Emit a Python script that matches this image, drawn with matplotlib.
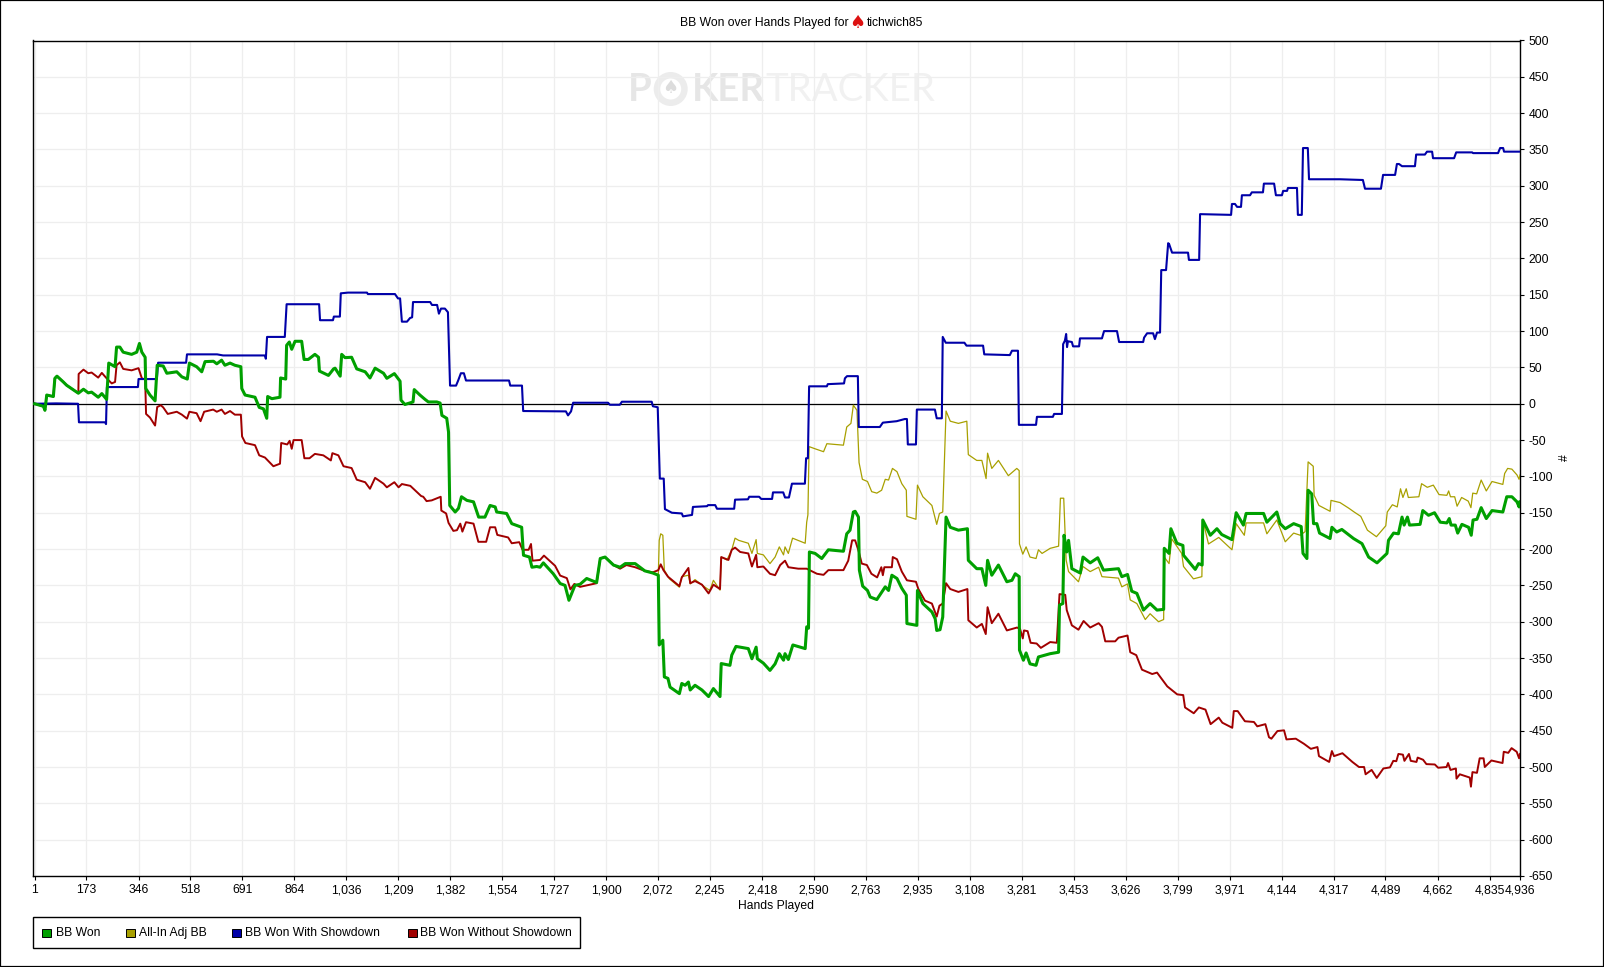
import numpy as np
import matplotlib
matplotlib.use("Agg")
import matplotlib.pyplot as plt
from matplotlib.patches import Rectangle, Circle

plt.rcParams['font.family'] = ['Liberation Sans', 'DejaVu Sans']
plt.rcParams['axes.unicode_minus'] = False

# (hand, bb)
bb_won = [
    (1, 0), (30, -3.5), (35, -9), (41, 12), (63, 10), (68, 35), (75, 38), (96, 30), (107, 25.5), (146, 14.5),
    (163, 20), (179, 15), (190, 16), (212, 9), (224, 14), (240, 6), (247, 56), (268, 51), (273, 78), (284, 78),
    (295, 71), (323, 68), (340, 71), (349, 83), (357, 71), (368, 64), (370, 21), (384, 12), (401, 4), (408, 53),
    (428, 52), (440, 42), (473, 44), (490, 37), (508, 34), (515, 56), (539, 51), (556, 44), (567, 58), (595, 58.5),
    (606, 55), (622, 60), (633, 53), (650, 56), (666, 53), (686, 51), (689, 21), (700, 12), (733, 9), (747, -5),
    (761, -7), (772, -20), (775, 10), (789, 7), (816, 9), (818, 35.5), (835, 34), (838, 80.5), (847, 85), (855, 75),
    (866, 86), (888, 86), (896, 61), (910, 61), (932, 68), (944, 64), (947, 45), (977, 39), (994, 48), (999, 49),
    (1016, 38), (1021, 68), (1032, 63.5), (1054, 64), (1071, 48), (1099, 44), (1115, 35.5), (1132, 49), (1160, 42),
    (1171, 35), (1196, 41.5), (1215, 31), (1218, 5), (1231, -1), (1258, 2.5), (1262, 19.5), (1281, 12), (1298, 6),
    (1309, 2.5), (1337, 2.5), (1348, 1), (1354, -16), (1370, -20), (1376, -39), (1380, -140), (1398, -149),
    (1409, -144), (1419, -128), (1437, -133), (1459, -135), (1476, -156), (1497, -156), (1514, -140), (1531, -142),
    (1536, -149), (1569, -151), (1586, -165), (1619, -170), (1625, -208.5), (1645, -211), (1653, -225), (1669, -224),
    (1680, -225), (1691, -219), (1724, -234), (1747, -247.5), (1763, -250), (1776, -270.5), (1796, -250),
    (1813, -248.5), (1835, -240.5), (1868, -246), (1880, -213), (1896, -211), (1924, -222), (1946, -225), (1963, -220),
    (1996, -220), (2028, -230), (2055, -233), (2073, -236), (2076, -332), (2088, -325.5), (2093, -376), (2105, -378),
    (2112, -390), (2143, -399), (2151, -385), (2162, -387.5), (2173, -383), (2179, -394), (2195, -387.5), (2218, -394),
    (2240, -403), (2256, -392), (2278, -403), (2282, -357.6), (2311, -360), (2317, -346), (2331, -334), (2372, -337),
    (2384, -351), (2398, -335), (2402, -351), (2422, -357), (2444, -367), (2461, -358), (2475, -344), (2489, -353),
    (2494, -344), (2505, -352), (2520, -332), (2561, -337), (2566, -307), (2572, -309), (2575, -204), (2594, -206),
    (2616, -213), (2638, -201), (2688, -203), (2699, -179), (2710, -174), (2721, -149), (2727, -148), (2738, -156),
    (2741, -229), (2752, -251), (2768, -257), (2777, -266), (2799, -269.5), (2827, -252), (2838, -257), (2849, -236),
    (2866, -240.5), (2882, -254), (2897, -263.5), (2899, -302.5), (2932, -305), (2934, -257), (2952, -275),
    (2982, -286.5), (2993, -296), (2998, -312), (3009, -311), (3018, -293.5), (3029, -156), (3043, -170), (3070, -174),
    (3100, -172), (3103, -215.5), (3131, -227), (3148, -227), (3161, -250), (3167, -215.5), (3181, -236), (3203, -222),
    (3231, -245), (3248, -243), (3259, -234), (3272, -238), (3273, -339), (3286, -353), (3295, -343), (3308, -358),
    (3328, -360), (3336, -348.5), (3375, -344), (3403, -342), (3406, -277), (3417, -275), (3421, -181), (3430, -204),
    (3436, -188), (3447, -227), (3475, -233), (3484, -211), (3508, -219), (3533, -212), (3552, -229), (3602, -227),
    (3613, -238), (3632, -235), (3646, -258), (3663, -261), (3685, -284), (3707, -275), (3730, -284), (3752, -283),
    (3754, -199), (3770, -206), (3776, -172), (3796, -192), (3816, -195), (3818, -208.5), (3857, -228), (3868, -220),
    (3880, -222), (3882, -160), (3907, -181), (3929, -172), (3945, -180), (3979, -187), (3993, -150), (4017, -167),
    (4026, -151), (4084, -151), (4095, -163), (4128, -149), (4139, -165), (4156, -172), (4184, -165), (4209, -169),
    (4215, -206), (4228, -213), (4232, -119), (4244, -124), (4250, -165), (4261, -165), (4270, -178), (4305, -185.5),
    (4311, -170), (4327, -176.5), (4344, -173), (4383, -185.5), (4411, -192.5), (4433, -211), (4461, -219),
    (4494, -206), (4499, -188), (4516, -178), (4532, -179), (4544, -156), (4551, -167), (4562, -156), (4569, -167),
    (4604, -166), (4613, -147), (4632, -153.5), (4652, -150), (4671, -163), (4693, -164), (4701, -158), (4707, -167),
    (4721, -167), (4729, -178), (4743, -166), (4765, -170), (4774, -181), (4780, -160), (4793, -159), (4807, -143),
    (4824, -158), (4843, -147), (4879, -149), (4892, -128), (4909, -128), (4926, -135), (4933, -142), (4936, -135),
]

# all-in line sits on top of BB Won until the first all-in, around hand 2073
all_in_after = [
    (2076, -188), (2081, -179), (2088, -181), (2093, -229), (2110, -241), (2143, -252.5), (2151, -238), (2173, -236),
    (2179, -248), (2195, -242), (2223, -251), (2244, -257), (2256, -243), (2278, -256.5), (2282, -211), (2301, -215),
    (2317, -201), (2328, -185), (2340, -188), (2372, -192), (2384, -206), (2398, -187), (2402, -206), (2422, -208),
    (2444, -220), (2461, -211), (2475, -197), (2489, -208), (2494, -197), (2505, -206), (2519, -185), (2561, -192),
    (2566, -163), (2570, -153), (2574, -59), (2594, -62), (2622, -66), (2633, -55), (2688, -57), (2699, -32),
    (2713, -27), (2721, -2), (2733, -9), (2740, -81), (2751, -104), (2768, -107), (2782, -121), (2799, -123),
    (2815, -119), (2827, -104), (2838, -105), (2851, -89), (2866, -93.5), (2882, -110), (2897, -119), (2899, -155),
    (2929, -159), (2934, -112), (2952, -128), (2982, -140), (2998, -166), (3007, -151), (3018, -149), (3029, -10),
    (3043, -24), (3070, -27), (3098, -24), (3103, -70), (3131, -78), (3148, -78), (3162, -103), (3167, -68),
    (3181, -89), (3203, -78), (3236, -99), (3264, -89), (3272, -92), (3273, -193), (3284, -207), (3295, -197),
    (3308, -211), (3328, -213), (3336, -201), (3348, -206), (3375, -199), (3403, -196), (3409, -130), (3420, -130),
    (3428, -215), (3436, -231), (3469, -245), (3484, -224), (3508, -231), (3536, -225), (3547, -238), (3602, -240),
    (3613, -252), (3632, -248), (3641, -270), (3663, -275), (3691, -297), (3707, -289), (3735, -300), (3752, -297),
    (3754, -211), (3770, -220), (3779, -186), (3812, -206), (3818, -224), (3851, -241), (3879, -238), (3882, -160),
    (3901, -193), (3935, -184), (3979, -201), (3993, -165), (4020, -181), (4026, -164), (4084, -164), (4095, -179),
    (4128, -160), (4156, -190), (4184, -178), (4206, -181), (4222, -176), (4232, -80), (4249, -86), (4252, -126),
    (4268, -140), (4305, -148), (4308, -133), (4338, -136), (4368, -144), (4385, -149), (4407, -155), (4429, -174),
    (4459, -183), (4490, -168), (4495, -149), (4512, -139), (4528, -142), (4539, -117), (4547, -129), (4558, -117),
    (4565, -129), (4600, -128), (4609, -110), (4628, -115), (4648, -112), (4667, -125), (4693, -126), (4699, -120),
    (4705, -128), (4719, -128), (4727, -141), (4742, -129), (4764, -134), (4773, -143), (4779, -123), (4792, -124),
    (4807, -105), (4824, -120), (4843, -107), (4879, -111), (4885, -96), (4895, -89), (4909, -90), (4926, -98),
    (4933, -104), (4936, -98),
]
all_in_adj = [p for p in bb_won if p[0] <= 2073] + all_in_after

with_showdown = [
    (1, 0), (72, 0.5), (145, 0), (148, -25.5), (235, -25.5), (238, -28), (241, 23), (344, 23), (346, 34), (407, 34),
    (411, 56.5), (504, 56.5), (507, 68), (607, 68), (627, 66.5), (766, 66.5), (769, 62), (773, 92), (832, 92),
    (838, 137), (946, 137), (949, 115), (992, 115), (995, 120), (1015, 120), (1018, 152), (1042, 153), (1105, 153),
    (1108, 151), (1198, 151), (1208, 145), (1215, 145), (1221, 113), (1238, 113), (1248, 118), (1255, 119), (1258, 140),
    (1315, 140), (1321, 136), (1338, 136), (1344, 124), (1351, 131), (1364, 131), (1374, 126), (1381, 25), (1401, 25),
    (1408, 32), (1417, 42), (1427, 42), (1434, 32), (1577, 32), (1581, 25), (1620, 25), (1624, -10), (1766, -10.5),
    (1773, -16), (1783, -10.5), (1790, 1.4), (1906, 1.4), (1912, -1.4), (1945, -1.4), (1952, 2.8), (2051, 2.8),
    (2055, -3.4), (2071, -4.8), (2078, -103), (2091, -103), (2095, -145), (2118, -150), (2151, -151), (2155, -155),
    (2185, -153), (2188, -142), (2235, -141), (2238, -139.5), (2262, -139.5), (2268, -144.5), (2325, -144.5),
    (2328, -132), (2371, -131.5), (2375, -128), (2408, -128), (2415, -131), (2451, -131), (2454, -122), (2488, -122),
    (2494, -129), (2507, -129), (2517, -110), (2560, -110), (2564, -75), (2570, -75), (2574, 24), (2633, 24), (2636, 27),
    (2690, 28), (2693, 35), (2700, 38), (2736, 38), (2739, -32), (2809, -32), (2819, -26), (2865, -24), (2892, -21),
    (2899, -21), (2902, -56), (2929, -56), (2932, -8), (2992, -8), (2998, -20), (3015, -20), (3018, 92), (3028, 84),
    (3090, 84), (3097, 80), (3152, 80), (3156, 68), (3241, 67), (3248, 73), (3268, 73), (3271, -29), (3328, -29),
    (3331, -18), (3384, -18), (3388, -14), (3414, -14), (3418, 82), (3424, 87), (3428, 96), (3431, 78), (3434, 86),
    (3447, 85), (3451, 79), (3471, 79), (3474, 90), (3547, 90), (3554, 100), (3597, 100), (3604, 85), (3684, 85),
    (3687, 91), (3697, 97), (3717, 97), (3723, 89), (3730, 98), (3740, 98), (3744, 184), (3760, 184), (3767, 221),
    (3770, 220), (3780, 208), (3833, 208), (3836, 198), (3870, 198), (3873, 261), (3976, 260), (3979, 275), (3989, 275),
    (3996, 271), (4009, 271), (4012, 287), (4039, 287), (4045, 291), (4082, 291), (4085, 303), (4119, 303), (4125, 287),
    (4145, 287), (4149, 293), (4162, 293), (4165, 297), (4195, 297), (4198, 260), (4211, 260), (4215, 352), (4231, 352),
    (4235, 309), (4338, 309), (4414, 308), (4421, 296), (4474, 296), (4481, 315), (4521, 315), (4527, 330), (4534, 330),
    (4544, 327), (4587, 327), (4591, 343), (4620, 343), (4627, 347), (4644, 347), (4647, 338), (4717, 338), (4724, 346),
    (4777, 346), (4780, 345), (4863, 345), (4870, 352), (4880, 352), (4883, 347), (4936, 347),
]

without_showdown = [
    (1, 0), (30, -3.5), (35, -9), (41, 12), (63, 10), (68, 35), (75, 38), (96, 30), (107, 25.5), (146, 14.5), (147, 41),
    (163, 47), (179, 42), (190, 43), (212, 36), (224, 42.5), (240, 35), (257, 28), (268, 30), (273, 53), (284, 57),
    (295, 48), (323, 46), (346, 49), (357, 35), (368, 33.5), (371, -14), (384, -19), (401, -30), (408, -4.5), (420, -2),
    (428, -5), (443, -14), (473, -11), (490, -15), (507, -20.5), (515, -11), (539, -13), (552, -24), (564, -11),
    (594, -8), (606, -11), (622, -8), (633, -14), (650, -10), (666, -15), (686, -15), (690, -45), (701, -54), (733, -57),
    (747, -71), (766, -74), (794, -86), (816, -82.5), (820, -54), (840, -56), (848, -51), (855, -62), (861, -50),
    (888, -50), (897, -75), (914, -75), (932, -69), (960, -71), (985, -78), (990, -68), (1010, -71), (1027, -86),
    (1054, -88.5), (1071, -104.5), (1099, -108), (1115, -117), (1132, -102), (1160, -110), (1171, -115), (1196, -108),
    (1210, -115), (1221, -110.5), (1249, -113), (1285, -127), (1292, -128), (1303, -134), (1320, -133), (1350, -128),
    (1352, -147), (1368, -151), (1376, -164), (1392, -175), (1404, -174), (1415, -165), (1422, -176), (1434, -163),
    (1459, -165), (1475, -190), (1501, -190), (1514, -170), (1531, -170), (1538, -180.5), (1574, -184), (1586, -192),
    (1611, -190.5), (1622, -201), (1642, -201), (1650, -193), (1655, -216), (1680, -215), (1693, -209), (1730, -223),
    (1747, -236.5), (1769, -240), (1781, -255.5), (1794, -248), (1813, -252), (1868, -247), (1880, -213), (1896, -211),
    (1924, -222), (1946, -227), (1967, -222), (1996, -225), (2028, -230), (2055, -232), (2073, -229), (2081, -221),
    (2090, -229), (2105, -238), (2143, -251), (2151, -239), (2173, -226), (2179, -247), (2195, -244), (2218, -249),
    (2240, -261), (2256, -249), (2278, -255), (2282, -211), (2306, -215), (2317, -201), (2328, -198), (2345, -204),
    (2372, -206), (2384, -224), (2398, -208), (2402, -225), (2422, -224), (2444, -234), (2461, -236), (2478, -222),
    (2494, -216), (2505, -225), (2538, -227), (2566, -227), (2600, -234), (2622, -235.5), (2638, -229), (2688, -229),
    (2704, -216), (2717, -188), (2727, -188), (2738, -202), (2749, -220), (2766, -222), (2781, -234), (2800, -239),
    (2814, -225), (2819, -236), (2824, -225), (2849, -225), (2852, -211), (2866, -214), (2882, -231), (2899, -243),
    (2929, -245), (2937, -255), (2959, -271), (2982, -275), (2998, -293), (3007, -278), (3018, -275), (3029, -247),
    (3043, -255), (3070, -259), (3100, -255), (3103, -298), (3131, -308), (3148, -303), (3161, -317), (3167, -280),
    (3181, -302), (3203, -289), (3231, -312), (3248, -310), (3265, -308), (3275, -310), (3284, -323), (3288, -312),
    (3300, -313), (3310, -329), (3330, -330), (3344, -336), (3375, -328), (3397, -329), (3406, -262), (3425, -263),
    (3430, -284), (3447, -305), (3469, -311), (3486, -299), (3508, -308), (3536, -302), (3547, -307), (3558, -327),
    (3591, -327), (3602, -322), (3632, -319), (3641, -342), (3661, -346), (3680, -366), (3714, -372), (3730, -370),
    (3764, -389), (3797, -400), (3817, -401), (3823, -418), (3852, -426), (3869, -418), (3891, -421), (3908, -441),
    (3935, -432), (3947, -439), (3980, -446), (3985, -423), (3998, -423), (4022, -437), (4052, -438), (4063, -444),
    (4090, -441), (4102, -459), (4110, -461), (4130, -450.5), (4152, -449.5), (4160, -462), (4191, -461), (4218, -468),
    (4241, -475), (4263, -472.5), (4268, -485), (4302, -493), (4311, -478), (4318, -485), (4346, -481), (4379, -493),
    (4401, -500), (4418, -500), (4423, -510), (4443, -504), (4460, -515), (4482, -502), (4504, -500.5), (4515, -491.5),
    (4525, -492), (4532, -482), (4547, -483), (4552, -491.5), (4567, -482), (4573, -491.5), (4592, -493), (4596, -487),
    (4614, -490), (4625, -496), (4653, -496.5), (4664, -501), (4692, -500), (4697, -494.5), (4705, -504), (4723, -502),
    (4725, -516), (4736, -510), (4769, -514.5), (4773, -527), (4778, -507), (4793, -508), (4802, -488), (4815, -488),
    (4819, -500), (4841, -491), (4878, -494.5), (4882, -479), (4897, -480.5), (4908, -474), (4925, -479), (4933, -488),
    (4936, -482),
]

x_ticks = [1, 173, 346, 518, 691, 864, 1036, 1209, 1382, 1554, 1727, 1900, 2072, 2245, 2418, 2590, 2763, 2935,
           3108, 3281, 3453, 3626, 3799, 3971, 4144, 4317, 4489, 4662, 4835, 4936]
y_ticks = list(range(-650, 501, 50))

names = ['BB Won', 'All-In Adj BB', 'BB Won With Showdown', 'BB Won Without Showdown']
colors = ['#00A000', '#A8A000', '#0000A8', '#A00000']

W, H = 1604, 967
FS = 8.7


def fx(px):
    return px / W


def fy(py):
    return 1 - py / H


fig = plt.figure(figsize=(W / 100, H / 100), dpi=100)
ax = fig.add_axes([fx(33.3), fy(876), fx(1520) - fx(33.3), fy(40.5) - fy(876)])
ax.set_xlim(-3.65, 4936)
ax.set_ylim(-650, 500)

ax.grid(True, color='#eeeeee', linewidth=0.9, zorder=1)
ax.set_axisbelow(True)
ax.set_xticks(x_ticks)
ax.set_xticklabels([f'{t:,}' for t in x_ticks], fontsize=FS)
for lab in ax.get_xticklabels():
    lab.set_verticalalignment('baseline')
ax.set_yticks(y_ticks)
ax.yaxis.tick_right()
ax.yaxis.set_label_position('right')
ax.tick_params(axis='y', labelsize=FS, length=3.2, width=0.8, pad=2.8)
ax.tick_params(axis='x', length=3.2, width=0.8, pad=9.2)
for s in ax.spines.values():
    s.set_linewidth(1.0)

ax.axhline(0, color='black', linewidth=0.9, zorder=2)

# order: all-in under red under blue, green on top
for data, c, lw, z in [(all_in_adj, colors[1], 0.9, 3),
                       (without_showdown, colors[3], 1.4, 4),
                       (with_showdown, colors[2], 1.5, 5),
                       (bb_won, colors[0], 2.2, 6)]:
    arr = np.array(data)
    ax.plot(arr[:, 0], arr[:, 1], color=c, linewidth=lw, zorder=z, solid_joinstyle='round')

# watermark
wm_kw = dict(transform=fig.transFigure, va='center', family='Lato', fontsize=27.6, zorder=0.5)
ax.text(fx(628), fy(90), 'P', color='#e6e6e6', ha='left', fontweight='bold', **wm_kw)
ax.text(fx(692), fy(90), 'KER', color='#e6e6e6', ha='left', fontweight='bold', **wm_kw)
ax.text(fx(765), fy(90), 'TRACKER', color='#f1f1f1', ha='left', **wm_kw)
ax.add_artist(Circle((670.7, H - 89), 17, transform=None, facecolor='#ececec', edgecolor='none', zorder=0.5))
ax.add_artist(Circle((670.7, H - 89), 10.5, transform=None, facecolor='white', edgecolor='none', zorder=0.55))
ax.text(fx(670.7), fy(88), '\u2660', color='#dcdcdc', ha='center', va='center', family='DejaVu Sans',
        fontsize=13, transform=fig.transFigure, zorder=0.6)

# title with the red spade
fig.text(fx(680), fy(23), 'BB Won over Hands Played for', fontsize=FS, ha='left', va='center')
fig.text(fx(857), fy(23), '\u2660', fontsize=13, color='#DD1111', ha='center', va='center', family='DejaVu Sans')
fig.text(fx(867), fy(23), 'tichwich85', fontsize=FS, ha='left', va='center')

fig.text(fx(776), fy(906), 'Hands Played', fontsize=FS, ha='center', va='center')
fig.text(fx(1565), fy(458), '#', fontsize=FS, rotation=90, ha='center', va='center')

# legend box drawn by hand to keep the PokerTracker spacing
fig.patches.append(Rectangle((fx(33), fy(948)), fx(580) - fx(33), fy(917) - fy(948), transform=fig.transFigure,
                             facecolor='white', edgecolor='black', linewidth=1.0))
swatch_x = [42, 126, 232, 407.5]
label_x = [55.5, 139, 245, 420.5]
for name, c, sx, lx in zip(names, colors, swatch_x, label_x):
    fig.patches.append(Rectangle((fx(sx), fy(937)), 9 / W, 8 / H, transform=fig.transFigure,
                                 facecolor=c, edgecolor='black', linewidth=0.7))
    fig.text(fx(lx), fy(933), name, fontsize=FS, ha='left', va='center')

# outer border of the png
fig.patches.append(Rectangle((0, 0), 1, 1, transform=fig.transFigure, facecolor='none', edgecolor='black',
                             linewidth=1.6))

fig.savefig('out.png', dpi=100)
plt.close(fig)
